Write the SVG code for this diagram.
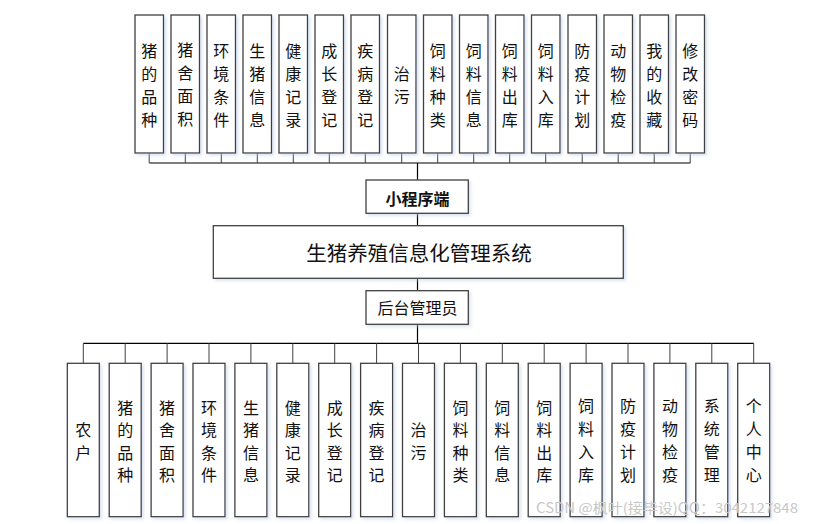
<svg xmlns="http://www.w3.org/2000/svg" width="828" height="524" viewBox="0 0 828 524">
<style>
.bx{fill:#fff;stroke:#404040;stroke-width:1.3;filter:url(#sh)}
.ln{stroke:#000;stroke-width:1.2;fill:none}
.stub{stroke:#404040;stroke-width:1;fill:none}
.t{font-family:"Noto Sans CJK SC","Noto Sans",sans-serif;font-size:16px;fill:#111;text-anchor:middle;dominant-baseline:central}
.tb{font-weight:bold}
.title{font-size:20.5px}
.wm{font-family:"Noto Sans CJK SC","Noto Sans",sans-serif;font-size:14px;fill:#c8c8c8}
</style>
<defs>
<filter id="sh" x="-20%" y="-20%" width="150%" height="150%">
<feDropShadow dx="2" dy="2" stdDeviation="1.5" flood-color="#b8c8e8" flood-opacity="0.5"/>
</filter>
</defs>
<g id="connectors">
<path class="ln" d="M149.2 163H690.3M417.5 163V180M417.5 213.3V225.7M417.5 278.3V290.7M417.5 324.3V343.3M83.3 343.3H753.7"/>
<path class="stub" d="M149.2 153V163M185.3 153V163M221.3 153V163M257.3 153V163M293.3 153V163M329.3 153V163M365.3 153V163M401.7 153V163M437.7 153V163M473.7 153V163M509.7 153V163M545.7 153V163M582.2 153V163M618.2 153V163M654.2 153V163M690.2 153V163"/>
<path class="stub" d="M83.3 343.3V363.3M125.2 343.3V363.3M167.1 343.3V363.3M209 343.3V363.3M250.9 343.3V363.3M292.8 343.3V363.3M334.7 343.3V363.3M376.6 343.3V363.3M418.5 343.3V363.3M460.4 343.3V363.3M502.3 343.3V363.3M544.2 343.3V363.3M586.1 343.3V363.3M628 343.3V363.3M669.9 343.3V363.3M711.8 343.3V363.3M753.7 343.3V363.3"/>
</g>
<g id="miniapp"><rect class="bx" x="366" y="180" width="102.3" height="33.3"/><text class="t tb" x="417.5" y="197.5">小程序端</text></g>
<g id="system"><rect class="bx" x="213.3" y="225.7" width="410" height="52.6"/><text class="t title" x="419" y="252">生猪养殖信息化管理系统</text></g>
<g id="admin"><rect class="bx" x="366" y="290.7" width="102.3" height="33.6"/><text class="t" x="417.5" y="307">后台管理员</text></g>

<g id="top1"><rect class="bx" x="135" y="15" width="28.5" height="138"/><text class="t"><tspan x="149.2" y="49.5">猪</tspan><tspan x="149.2" y="72.5">的</tspan><tspan x="149.2" y="95.5">品</tspan><tspan x="149.2" y="118.5">种</tspan></text></g>
<g id="top2"><rect class="bx" x="171" y="15" width="28.5" height="138"/><text class="t"><tspan x="185.3" y="48.5">猪</tspan><tspan x="185.3" y="71.5">舍</tspan><tspan x="185.3" y="94.5">面</tspan><tspan x="185.3" y="117.5">积</tspan></text></g>
<g id="top3"><rect class="bx" x="207" y="15" width="28.5" height="138"/><text class="t"><tspan x="221.3" y="49.5">环</tspan><tspan x="221.3" y="72.5">境</tspan><tspan x="221.3" y="95.5">条</tspan><tspan x="221.3" y="118.5">件</tspan></text></g>
<g id="top4"><rect class="bx" x="243" y="15" width="28.5" height="138"/><text class="t"><tspan x="257.3" y="49.5">生</tspan><tspan x="257.3" y="72.5">猪</tspan><tspan x="257.3" y="95.5">信</tspan><tspan x="257.3" y="118.5">息</tspan></text></g>
<g id="top5"><rect class="bx" x="279" y="15" width="28.5" height="138"/><text class="t"><tspan x="293.3" y="49.5">健</tspan><tspan x="293.3" y="72.5">康</tspan><tspan x="293.3" y="95.5">记</tspan><tspan x="293.3" y="118.5">录</tspan></text></g>
<g id="top6"><rect class="bx" x="315" y="15" width="28.5" height="138"/><text class="t"><tspan x="329.3" y="49.5">成</tspan><tspan x="329.3" y="72.5">长</tspan><tspan x="329.3" y="95.5">登</tspan><tspan x="329.3" y="118.5">记</tspan></text></g>
<g id="top7"><rect class="bx" x="351" y="15" width="28.5" height="138"/><text class="t"><tspan x="365.3" y="49.5">疾</tspan><tspan x="365.3" y="72.5">病</tspan><tspan x="365.3" y="95.5">登</tspan><tspan x="365.3" y="118.5">记</tspan></text></g>
<g id="top8"><rect class="bx" x="387.5" y="15" width="28.5" height="138"/><text class="t"><tspan x="401.7" y="72.5">治</tspan><tspan x="401.7" y="95.5">污</tspan></text></g>
<g id="top9"><rect class="bx" x="423.5" y="15" width="28.5" height="138"/><text class="t"><tspan x="437.7" y="49.5">饲</tspan><tspan x="437.7" y="72.5">料</tspan><tspan x="437.7" y="95.5">种</tspan><tspan x="437.7" y="118.5">类</tspan></text></g>
<g id="top10"><rect class="bx" x="459.5" y="15" width="28.5" height="138"/><text class="t"><tspan x="473.7" y="49.5">饲</tspan><tspan x="473.7" y="72.5">料</tspan><tspan x="473.7" y="95.5">信</tspan><tspan x="473.7" y="118.5">息</tspan></text></g>
<g id="top11"><rect class="bx" x="495.5" y="15" width="28.5" height="138"/><text class="t"><tspan x="509.7" y="49.5">饲</tspan><tspan x="509.7" y="72.5">料</tspan><tspan x="509.7" y="95.5">出</tspan><tspan x="509.7" y="118.5">库</tspan></text></g>
<g id="top12"><rect class="bx" x="531.5" y="15" width="28.5" height="138"/><text class="t"><tspan x="545.7" y="49.5">饲</tspan><tspan x="545.7" y="72.5">料</tspan><tspan x="545.7" y="95.5">入</tspan><tspan x="545.7" y="118.5">库</tspan></text></g>
<g id="top13"><rect class="bx" x="568" y="15" width="28.5" height="138"/><text class="t"><tspan x="582.2" y="49.5">防</tspan><tspan x="582.2" y="72.5">疫</tspan><tspan x="582.2" y="95.5">计</tspan><tspan x="582.2" y="118.5">划</tspan></text></g>
<g id="top14"><rect class="bx" x="604" y="15" width="28.5" height="138"/><text class="t"><tspan x="618.2" y="49.5">动</tspan><tspan x="618.2" y="72.5">物</tspan><tspan x="618.2" y="95.5">检</tspan><tspan x="618.2" y="118.5">疫</tspan></text></g>
<g id="top15"><rect class="bx" x="640" y="15" width="28.5" height="138"/><text class="t"><tspan x="654.2" y="49.5">我</tspan><tspan x="654.2" y="72.5">的</tspan><tspan x="654.2" y="95.5">收</tspan><tspan x="654.2" y="118.5">藏</tspan></text></g>
<g id="top16"><rect class="bx" x="676" y="15" width="28.5" height="138"/><text class="t"><tspan x="690.2" y="49.5">修</tspan><tspan x="690.2" y="72.5">改</tspan><tspan x="690.2" y="95.5">密</tspan><tspan x="690.2" y="118.5">码</tspan></text></g>

<g id="b1"><rect class="bx" x="67.3" y="363.3" width="32" height="153.4"/><text class="t"><tspan x="83.3" y="429">农</tspan><tspan x="83.3" y="451.5">户</tspan></text></g>
<g id="b2"><rect class="bx" x="109.2" y="363.3" width="32" height="153.4"/><text class="t"><tspan x="125.2" y="406.5">猪</tspan><tspan x="125.2" y="429">的</tspan><tspan x="125.2" y="451.5">品</tspan><tspan x="125.2" y="474">种</tspan></text></g>
<g id="b3"><rect class="bx" x="151.1" y="363.3" width="32" height="153.4"/><text class="t"><tspan x="167.1" y="406.5">猪</tspan><tspan x="167.1" y="429">舍</tspan><tspan x="167.1" y="451.5">面</tspan><tspan x="167.1" y="474">积</tspan></text></g>
<g id="b4"><rect class="bx" x="193" y="363.3" width="32" height="153.4"/><text class="t"><tspan x="209" y="406.5">环</tspan><tspan x="209" y="429">境</tspan><tspan x="209" y="451.5">条</tspan><tspan x="209" y="474">件</tspan></text></g>
<g id="b5"><rect class="bx" x="234.9" y="363.3" width="32" height="153.4"/><text class="t"><tspan x="250.9" y="406.5">生</tspan><tspan x="250.9" y="429">猪</tspan><tspan x="250.9" y="451.5">信</tspan><tspan x="250.9" y="474">息</tspan></text></g>
<g id="b6"><rect class="bx" x="276.8" y="363.3" width="32" height="153.4"/><text class="t"><tspan x="292.8" y="406.5">健</tspan><tspan x="292.8" y="429">康</tspan><tspan x="292.8" y="451.5">记</tspan><tspan x="292.8" y="474">录</tspan></text></g>
<g id="b7"><rect class="bx" x="318.7" y="363.3" width="32" height="153.4"/><text class="t"><tspan x="334.7" y="406.5">成</tspan><tspan x="334.7" y="429">长</tspan><tspan x="334.7" y="451.5">登</tspan><tspan x="334.7" y="474">记</tspan></text></g>
<g id="b8"><rect class="bx" x="360.6" y="363.3" width="32" height="153.4"/><text class="t"><tspan x="376.6" y="406.5">疾</tspan><tspan x="376.6" y="429">病</tspan><tspan x="376.6" y="451.5">登</tspan><tspan x="376.6" y="474">记</tspan></text></g>
<g id="b9"><rect class="bx" x="402.5" y="363.3" width="32" height="153.4"/><text class="t"><tspan x="418.5" y="429">治</tspan><tspan x="418.5" y="451.5">污</tspan></text></g>
<g id="b10"><rect class="bx" x="444.4" y="363.3" width="32" height="153.4"/><text class="t"><tspan x="460.4" y="406.5">饲</tspan><tspan x="460.4" y="429">料</tspan><tspan x="460.4" y="451.5">种</tspan><tspan x="460.4" y="474">类</tspan></text></g>
<g id="b11"><rect class="bx" x="486.3" y="363.3" width="32" height="153.4"/><text class="t"><tspan x="502.3" y="406.5">饲</tspan><tspan x="502.3" y="429">料</tspan><tspan x="502.3" y="451.5">信</tspan><tspan x="502.3" y="474">息</tspan></text></g>
<g id="b12"><rect class="bx" x="528.2" y="363.3" width="32" height="153.4"/><text class="t"><tspan x="544.2" y="406.5">饲</tspan><tspan x="544.2" y="429">料</tspan><tspan x="544.2" y="451.5">出</tspan><tspan x="544.2" y="474">库</tspan></text></g>
<g id="b13"><rect class="bx" x="570.1" y="363.3" width="32" height="153.4"/><text class="t"><tspan x="586.1" y="405">饲</tspan><tspan x="586.1" y="428">料</tspan><tspan x="586.1" y="451">入</tspan><tspan x="586.1" y="474">库</tspan></text></g>
<g id="b14"><rect class="bx" x="612" y="363.3" width="32" height="153.4"/><text class="t"><tspan x="628" y="405">防</tspan><tspan x="628" y="428">疫</tspan><tspan x="628" y="451">计</tspan><tspan x="628" y="474">划</tspan></text></g>
<g id="b15"><rect class="bx" x="653.9" y="363.3" width="32" height="153.4"/><text class="t"><tspan x="669.9" y="405">动</tspan><tspan x="669.9" y="428">物</tspan><tspan x="669.9" y="451">检</tspan><tspan x="669.9" y="474">疫</tspan></text></g>
<g id="b16"><rect class="bx" x="695.8" y="363.3" width="32" height="153.4"/><text class="t"><tspan x="711.8" y="405">系</tspan><tspan x="711.8" y="428">统</tspan><tspan x="711.8" y="451">管</tspan><tspan x="711.8" y="474">理</tspan></text></g>
<g id="b17"><rect class="bx" x="737.7" y="363.3" width="32" height="153.4"/><text class="t"><tspan x="753.7" y="405">个</tspan><tspan x="753.7" y="428">人</tspan><tspan x="753.7" y="451">中</tspan><tspan x="753.7" y="474">心</tspan></text></g>

<text class="wm" x="536" y="513" textLength="262" lengthAdjust="spacingAndGlyphs">CSDN @枫叶(接毕设)QQ：3042127848</text>
</svg>
